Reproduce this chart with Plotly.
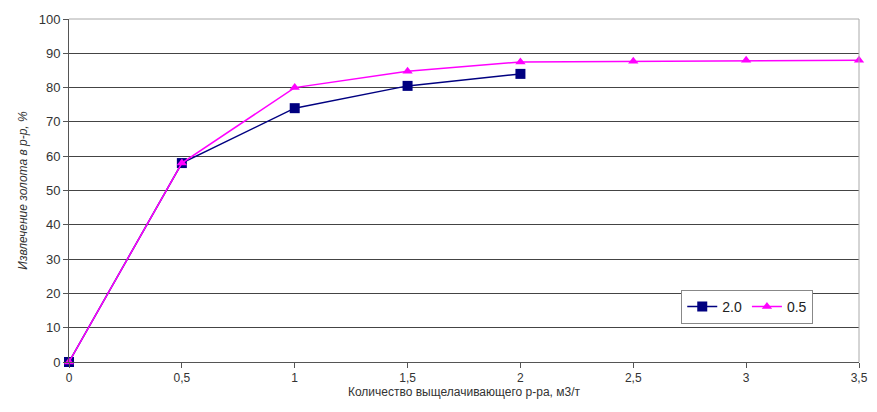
import plotly.graph_objects as go

x_a = [0, 0.5, 1, 1.5, 2]
y_a = [0, 58, 74, 80.5, 84]
x_b = [0, 0.5, 1, 1.5, 2, 2.5, 3, 3.5]
y_b = [0, 58, 80, 84.8, 87.5, 87.7, 88, 88]
name_a = "2.0"
name_b = "0.5"
x_ticks = [0, 0.5, 1, 1.5, 2, 2.5, 3, 3.5]
x_ticklabels = ["0", "0,5", "1", "1,5", "2", "2,5", "3", "3,5"]
y_ticks = list(range(0, 101, 10))

fig = go.Figure()
fig.add_trace(go.Scatter(x=x_a, y=y_a, name=name_a, mode="lines+markers",
                         line=dict(color="#000080", width=1.5),
                         marker=dict(symbol="square", size=10, color="#000080"),
                         cliponaxis=False))
fig.add_trace(go.Scatter(x=x_b, y=y_b, name=name_b, mode="lines+markers",
                         line=dict(color="#FF00FF", width=1.5),
                         marker=dict(symbol="triangle-up", size=9, color="#FF00FF"),
                         cliponaxis=False))

font = dict(family="Liberation Sans, Arial, sans-serif", size=13, color="#333333")
fig.update_layout(
    width=861, height=396,
    margin=dict(l=61, r=10, t=11, b=42, autoexpand=False),
    paper_bgcolor="white", plot_bgcolor="white",
    font=font,
    showlegend=True,
    legend=dict(orientation="h", x=0.775, y=0.21, xanchor="left", yanchor="top",
                bordercolor="#888888", borderwidth=1, bgcolor="white",
                font=dict(size=14, color="#222222"), itemwidth=30,
                tracegroupgap=0),
    xaxis=dict(range=[0, 3.5], tickvals=x_ticks, ticktext=x_ticklabels,
               showgrid=False, zeroline=False, showline=True, linecolor="#555555",
               ticks="outside", ticklen=5, tickcolor="#555555", automargin=False,
               mirror=False, ticklabeloverflow="allow",
               tickfont=dict(size=12),
               title=dict(text="Количество выщелачивающего р-ра, м3/т", standoff=3,
                          font=dict(size=12, color="#333333"))),
    yaxis=dict(range=[0, 100], tickvals=y_ticks, automargin=False,
               showgrid=True, gridcolor="#444444", gridwidth=1,
               zeroline=False, showline=True, linecolor="#555555",
               ticks="outside", ticklen=5, tickcolor="#555555",
               title=dict(text="<i>Извлечение золота в р-р, %</i>", standoff=8,
                          font=dict(size=12, color="#333333"))),
    shapes=[
        dict(type="line", xref="paper", yref="paper", x0=0, x1=1, y0=1, y1=1,
             line=dict(color="#aaaaaa", width=1)),
        dict(type="line", xref="paper", yref="paper", x0=1, x1=1, y0=0, y1=1,
             line=dict(color="#aaaaaa", width=1)),
    ],
)

fig.write_html("out.html")
